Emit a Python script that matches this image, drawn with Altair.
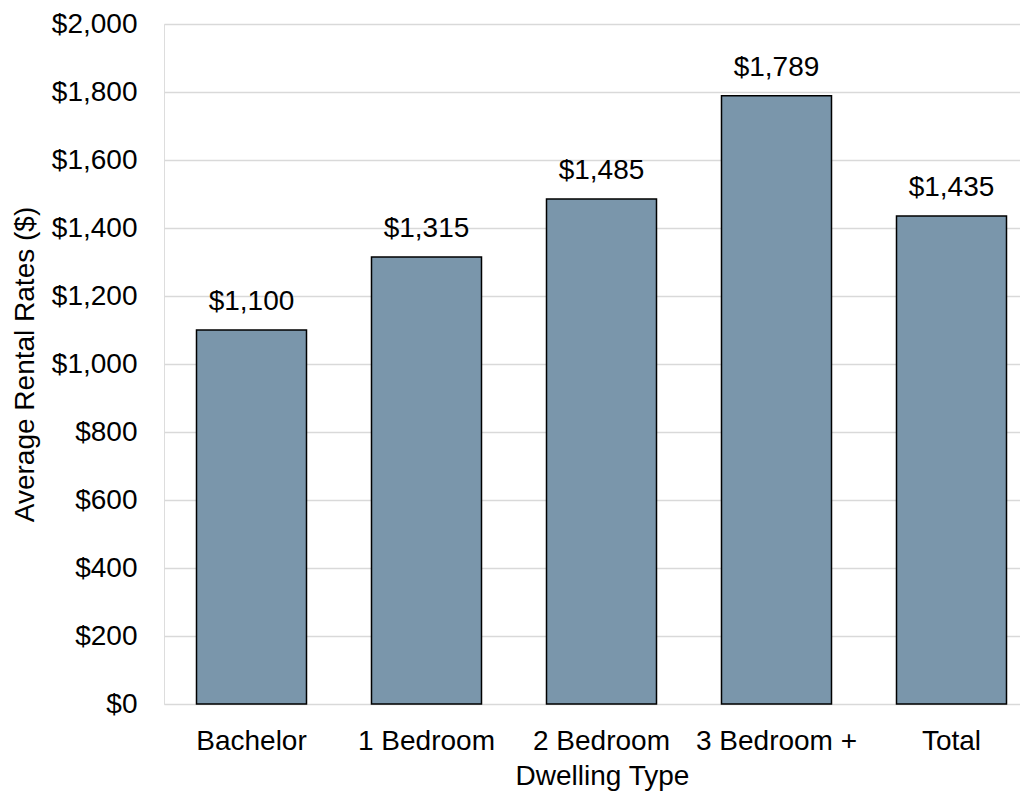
import altair as alt
import pandas as pd

categories = ["Bachelor", "1 Bedroom", "2 Bedroom", "3 Bedroom +", "Total"]
rents = [1100, 1315, 1485, 1789, 1435]
y_ticks = [0, 200, 400, 600, 800, 1000, 1200, 1400, 1600, 1800, 2000]

df = pd.DataFrame({"type": categories, "rent": rents})

FONT = "Liberation Sans"
FS = 28

xscale = alt.Scale(range=[0, 875], paddingInner=0.3714, paddingOuter=0.1857)

x = alt.X(
    "type:N",
    sort=categories,
    title="Dwelling Type",
    scale=xscale,
    axis=alt.Axis(
        labelAngle=0, ticks=False, tickSize=0, domain=False, grid=False,
        labelPadding=23, labelFontSize=FS, labelColor="#000000", labelFont=FONT,
        titleFont=FONT, titleFontSize=FS, titleFontWeight="normal", titleColor="#000000",
        titleX=438, titleY=72, titleBaseline="middle", titleAlign="center",
    ),
)

y = alt.Y(
    "rent:Q",
    title="Average Rental Rates ($)",
    scale=alt.Scale(domain=[0, 2000], nice=False),
    axis=alt.Axis(
        values=y_ticks, format="$,.0f", ticks=False, tickSize=0, domain=False,
        grid=True, gridColor="#D9D9D9", gridWidth=1.5,
        labelPadding=27, labelFontSize=FS, labelColor="#000000", labelFont=FONT,
        titleFont=FONT, titleFontSize=FS, titleFontWeight="normal", titleColor="#000000",
        titleX=-139, titleY=340, titleAngle=-90, titleBaseline="middle", titleAlign="center",
    ),
)

bars = alt.Chart(df).mark_bar(color="#7A96AB", stroke="#000000", strokeWidth=1.5).encode(x=x, y=y)

labels = alt.Chart(df).mark_text(
    dy=-20, baseline="alphabetic", align="center", fontSize=FS, font=FONT, color="#000000"
).encode(
    x=alt.X("type:N", sort=categories, scale=xscale),
    y=alt.Y("rent:Q"),
    text=alt.Text("rent:Q", format="$,.0f"),
)

chart = (
    alt.layer(bars, labels)
    .properties(
        width=856,
        height=680,
        autosize=alt.AutoSizeParams(type="none"),
        padding={"left": 156, "top": 16, "right": 0, "bottom": 100},
    )
    .configure_view(stroke="transparent")
    .configure(background="white")
)

chart.save("out.html", embed_options={"renderer": "svg", "actions": False})
